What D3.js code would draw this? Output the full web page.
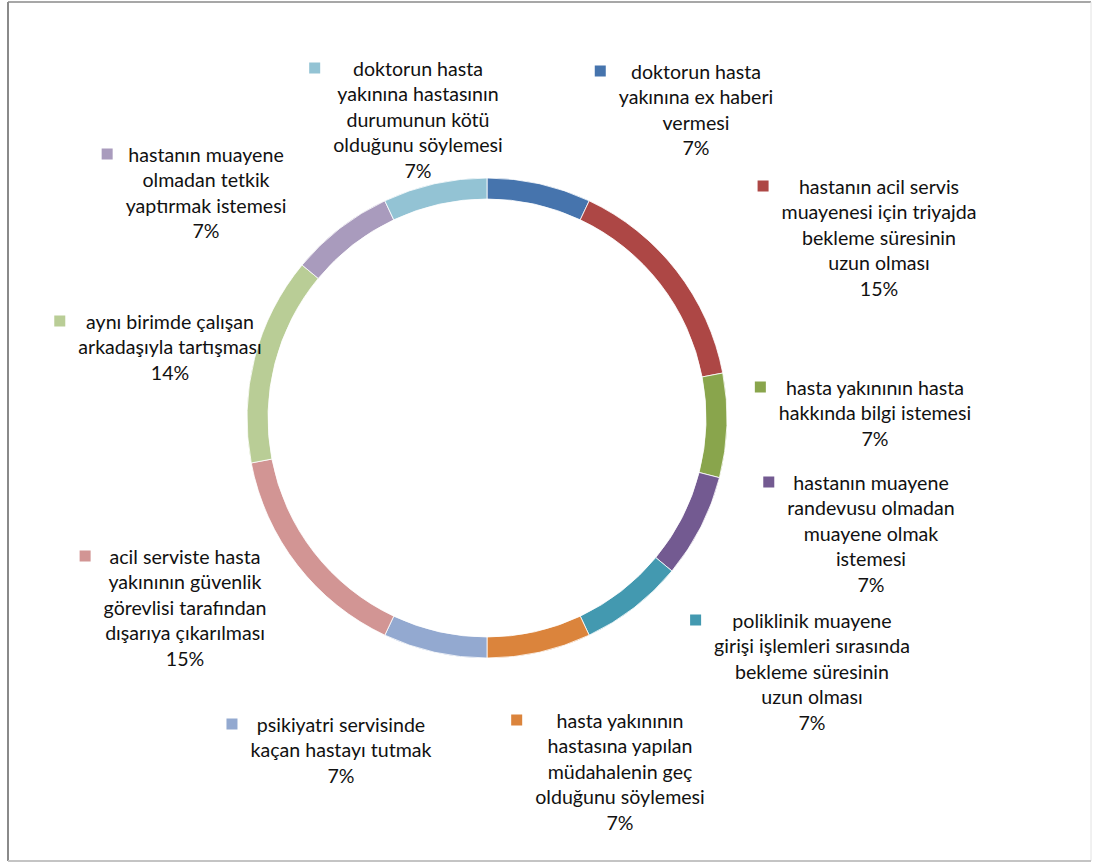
<!DOCTYPE html>
<html>
<head>
<meta charset="utf-8">
<script src="https://cdn.jsdelivr.net/npm/d3@7"></script>
<style>
  html, body { margin: 0; padding: 0; background: #ffffff; }
  svg { display: block; }
  text { font-family: Lato, "Open Sans", sans-serif; fill: #111; }
</style>
</head>
<body>
<svg id="chart" width="1094" height="862"></svg>
<script>
// Category names (one entry per line of the label), clockwise from 12 o'clock
const categories = [
  ["doktorun hasta", "yakınına ex haberi", "vermesi"],
  ["hastanın acil servis", "muayenesi için triyajda", "bekleme süresinin", "uzun olması"],
  ["hasta yakınının hasta", "hakkında bilgi istemesi"],
  ["hastanın muayene", "randevusu olmadan", "muayene olmak", "istemesi"],
  ["poliklinik muayene", "girişi işlemleri sırasında", "bekleme süresinin", "uzun olması"],
  ["hasta yakınının", "hastasına yapılan", "müdahalenin geç", "olduğunu söylemesi"],
  ["psikiyatri servisinde", "kaçan hastayı tutmak"],
  ["acil serviste hasta", "yakınının güvenlik", "görevlisi tarafından", "dışarıya çıkarılması"],
  ["aynı birimde çalışan", "arkadaşıyla tartışması"],
  ["hastanın muayene", "olmadan tetkik", "yaptırmak istemesi"],
  ["doktorun hasta", "yakınına hastasının", "durumunun kötü", "olduğunu söylemesi"]
];

// Share of each category (percent)
const percents = [7, 15, 7, 7, 7, 7, 7, 15, 14, 7, 7];

// Slice colours
const colors = [
  "#4674AD", "#AD4745", "#89A54C", "#735A91", "#4399B0", "#DB843C",
  "#93A9D0", "#D29594", "#B9CD96", "#A99BBD", "#93C3D4"
];

// Label placement: centre x of the text block and centre y of its first line
const labelLayout = [
  [696, 72], [879, 187], [875, 388], [871, 483], [812, 621], [620, 721],
  [341, 725], [185, 557], [170, 322], [206, 155], [418, 69]
];

const svg = d3.select("#chart");
const W = 1094, H = 862;

// Outer frame
svg.append("rect").attr("x", 0).attr("y", 0).attr("width", W).attr("height", H).attr("fill", "#fff");
svg.append("line").attr("x1", 8).attr("y1", 2).attr("x2", 1091).attr("y2", 2).attr("stroke", "#8a8a8a").attr("stroke-width", 1.5);
svg.append("line").attr("x1", 8).attr("y1", 2).attr("x2", 8).attr("y2", 861).attr("stroke", "#8a8a8a").attr("stroke-width", 2);
svg.append("line").attr("x1", 1091).attr("y1", 2).attr("x2", 1091).attr("y2", 861).attr("stroke", "#e2e2e2").attr("stroke-width", 1);
svg.append("line").attr("x1", 8).attr("y1", 861).attr("x2", 1091).attr("y2", 861).attr("stroke", "#c4c4c4").attr("stroke-width", 2);

const cx = 487, cy = 418, rOuter = 240, rInner = 219;

const data = percents.map((v, i) => ({ value: v, lines: categories[i], color: colors[i], pos: labelLayout[i] }));

const pie = d3.pie().sort(null).value(d => d.value);
const arc = d3.arc().innerRadius(rInner).outerRadius(rOuter);

const g = svg.append("g").attr("transform", `translate(${cx},${cy})`);
g.selectAll("path.slice")
  .data(pie(data))
  .join("path")
  .attr("class", "slice")
  .attr("d", arc)
  .attr("fill", d => d.data.color)
  .attr("stroke", "#ffffff")
  .attr("stroke-width", 0.8);

// Data labels: category lines + percentage, with a colour key before the first line
const lineH = 25.5;
const fmt = d3.format(".0%");
const labels = svg.selectAll("g.label")
  .data(data)
  .join("g")
  .attr("class", "label");

labels.each(function(d) {
  const grp = d3.select(this);
  const [lx, ly] = d.pos;
  const rows = d.lines.concat([fmt(d.value / 100)]);
  const t = grp.append("text")
    .attr("text-anchor", "middle")
    .attr("font-size", 19.6);
  rows.forEach((row, k) => {
    t.append("tspan")
      .attr("x", lx)
      .attr("y", ly + k * lineH)
      .attr("dy", "0.35em")
      .text(row);
  });
  // key square placed left of the widest line
  const widest = d3.max(t.selectAll("tspan").nodes(), n => n.getComputedTextLength());
  grp.append("rect")
    .attr("x", lx - widest / 2 - 24)
    .attr("y", ly - 6.5)
    .attr("width", 11)
    .attr("height", 11)
    .attr("fill", d.color);
});
</script>
</body>
</html>
